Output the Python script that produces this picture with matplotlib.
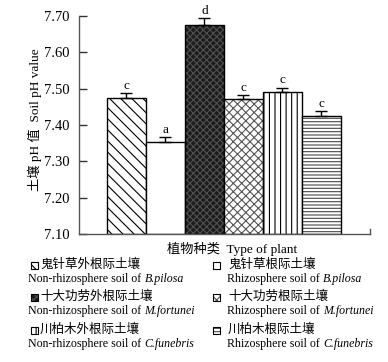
import matplotlib.pyplot as plt
from matplotlib.patches import Rectangle

plt.rcParams['font.family'] = ['Liberation Serif', 'Noto Sans CJK SC']
plt.rcParams['hatch.linewidth'] = 0.8

# soil pH per sample type
values = [7.475, 7.352, 7.675, 7.472, 7.491, 7.425]
errors = [0.012, 0.015, 0.020, 0.011, 0.012, 0.014]
letters = ['c', 'a', 'd', 'c', 'c', 'c']
yticks = [7.10, 7.20, 7.30, 7.40, 7.50, 7.60, 7.70]
labels_cn = ['鬼针草外根际土壤', '鬼针草根际土壤', '十大功劳外根际土壤',
             '十大功劳根际土壤', '川柏木外根际土壤', '川柏木根际土壤']
labels_en = ['Non-rhizosphere soil of', 'Rhizosphere soil of',
             'Non-rhizosphere soil of', 'Rhizosphere soil of',
             'Non-rhizosphere soil of', 'Rhizosphere soil of']
species = ['B.pilosa', 'B.pilosa', 'M.fortunei', 'M.fortunei',
           'C.funebris', 'C.funebris']

# (face, hatch, hatch colour)
styles = [('white', '\\\\\\', 'black'),
          ('white', '', 'black'),
          ('#1c1c1c', 'xxxxx', '#505050'),
          ('white', 'xxxx', '#555555'),
          ('white', '|||', 'black'),
          ('white', '-----', '#4a4a4a')]

W, H = 388, 362
fig = plt.figure(figsize=(W / 100, H / 100), dpi=100)
ax = fig.add_axes([79 / W, 1 - 234 / H, 291 / W, 218 / H])

x = list(range(len(values)))
for i, v in enumerate(values):
    face, hatch, hc = styles[i]
    ax.bar(x[i], v - 7.10, bottom=7.10, width=1.0, color=face,
           hatch=hatch, edgecolor=hc, linewidth=0)
    ax.bar(x[i], v - 7.10, bottom=7.10, width=1.0, fill=False,
           edgecolor='black', linewidth=1.0)

ax.errorbar(x, values, yerr=[[0] * len(values), errors], fmt='none',
            ecolor='black', elinewidth=1, capsize=4.5, capthick=1)
for i, v in enumerate(values):
    ax.text(x[i], v + errors[i] + 0.003, letters[i], ha='center',
            va='bottom', fontsize=9.5)

ax.set_xlim(-1.218, 6.244)
ax.set_ylim(7.10, 7.70)
ax.set_yticks(yticks)
ax.set_yticklabels(['%.2f' % t for t in yticks], fontsize=10.5)
ax.tick_params(axis='y', direction='in', length=6, width=1, colors='#333333',
               labelcolor='black', pad=7)
ax.set_xticks([])
for s in ['top', 'right']:
    ax.spines[s].set_visible(False)
for s in ['left', 'bottom']:
    ax.spines[s].set_color('#555555')
    ax.spines[s].set_linewidth(1.0)
ax.plot([6.244, 6.244], [7.10, 7.115], color='#555555', lw=1, clip_on=False)

fig.text(35 / W, 1 - 120 / H, '土壤 pH 值  Soil pH value', rotation=90,
         ha='center', va='center', fontsize=9.5)
fig.text(232 / W, 1 - 249 / H, '植物种类  Type of plant', ha='center',
         va='center', fontsize=9.5)

# legend, two columns, built by hand
rows_y = [265, 297, 330]
cols = [(31, 40, 28), (213, 228, 227)]
for k in range(6):
    r, c = k // 2, k % 2
    ix, tx, ex = cols[c]
    yc = rows_y[r]
    face, hatch, hc = styles[k]
    fig.add_artist(Rectangle((ix / W, 1 - (yc + 4) / H), 7 / W, 7 / H,
                             transform=fig.transFigure, facecolor=face,
                             hatch=hatch, edgecolor=hc, linewidth=0))
    fig.add_artist(Rectangle((ix / W, 1 - (yc + 4) / H), 7 / W, 7 / H,
                             transform=fig.transFigure, fill=False,
                             edgecolor='black', linewidth=0.8))
    fig.text(tx / W, 1 - yc / H, labels_cn[k], ha='left', va='center',
             fontsize=9)
    t = fig.text(ex / W, 1 - (yc + 14) / H, labels_en[k], ha='left',
                 va='center', fontsize=8.6)
    ax.annotate(species[k], xy=(1, 0), xycoords=t, xytext=(2.5, 0),
                textcoords='offset points', ha='left', va='bottom',
                fontsize=8.6, fontstyle='italic', annotation_clip=False)

fig.savefig('out.png', dpi=100)
